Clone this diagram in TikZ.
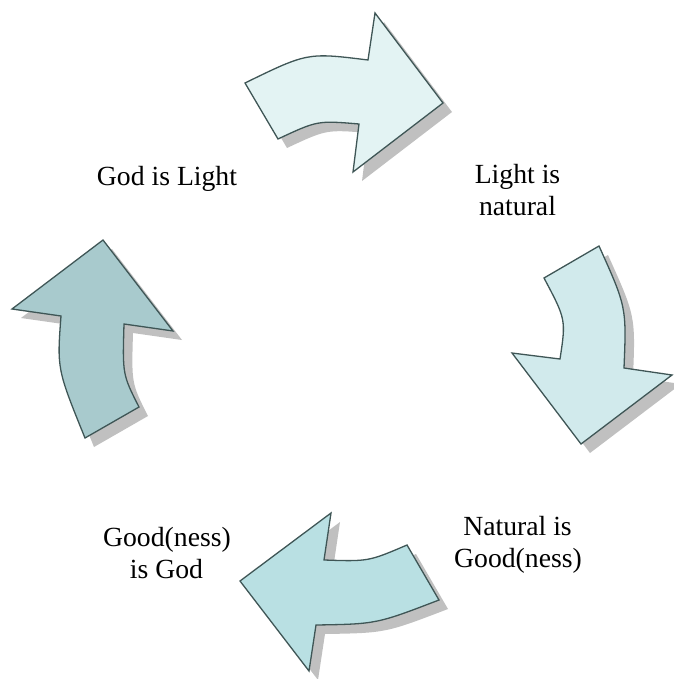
\documentclass[tikz,border=0pt]{standalone}
\usepackage{fontspec}
\setmainfont{Liberation Serif}
\begin{document}
\begin{tikzpicture}[x=1pt,y=-1pt,
  arrowshape/.style={draw=arrowline,line width=1.3pt,line join=miter},
  shadowshape/.style={fill=shadowgrey,draw=none,shift={(9,9)}},
  label/.style={font=\fontsize{27.7}{32}\selectfont,align=center,inner sep=0pt,anchor=base}]
\definecolor{arrowline}{HTML}{3F5656}
\definecolor{shadowgrey}{HTML}{C0C0C0}
\definecolor{fillA}{HTML}{E3F3F3}
\definecolor{fillB}{HTML}{D1EAEC}
\definecolor{fillC}{HTML}{B9E0E3}
\definecolor{fillD}{HTML}{A8CACD}
\useasboundingbox (0,0) rectangle (673,679);
\def\arrowA{(245,83) -- (278,139) .. controls (317.5,120.5) .. (359,124) -- (353,172) -- (443,103) -- (375,13) -- (368,60) .. controls (307.5,52.5) .. (245,83) -- cycle}
\def\arrowB{(599,246) .. controls (626.5,307) .. (624,368) -- (672,375) -- (581,444) -- (512,353) -- (560,359) .. controls (566,319.5) .. (544,278) -- cycle}
\def\arrowC{(407,545) -- (439,600) .. controls (376.5,624) .. (316,625) -- (309,671) -- (240,581) -- (331,513) -- (324,560) .. controls (368.5,561.5) .. (407,545) -- cycle}
\def\arrowD{(85,438) -- (139,407) .. controls (122.5,374.5) .. (124,324) -- (173,331) -- (103,240) -- (12,309) -- (61,316) .. controls (57,369) .. (85,438) -- cycle}
% shadows
\begin{scope}[shift={(9,9)}]
\fill[shadowgrey] \arrowA;
\fill[shadowgrey] \arrowB;
\fill[shadowgrey] \arrowC;
\fill[shadowgrey] \arrowD;
\end{scope}
% arrows
\filldraw[arrowshape,fill=fillA] \arrowA;
\filldraw[arrowshape,fill=fillB] \arrowB;
\filldraw[arrowshape,fill=fillC] \arrowC;
\filldraw[arrowshape,fill=fillD] \arrowD;
% labels
\node[label] (godlight) at (167,185) {God is Light};
\node[label] (lightnat1) at (517.5,183) {Light is};
\node[label] (lightnat2) at (517.5,215) {natural};
\node[label] (natgood1) at (517.5,535) {Natural is};
\node[label] (natgood2) at (518,567) {Good(ness)};
\node[label] (goodgod1) at (167,546) {Good(ness)};
\node[label] (goodgod2) at (166.5,578) {is God};
\end{tikzpicture}
\end{document}
